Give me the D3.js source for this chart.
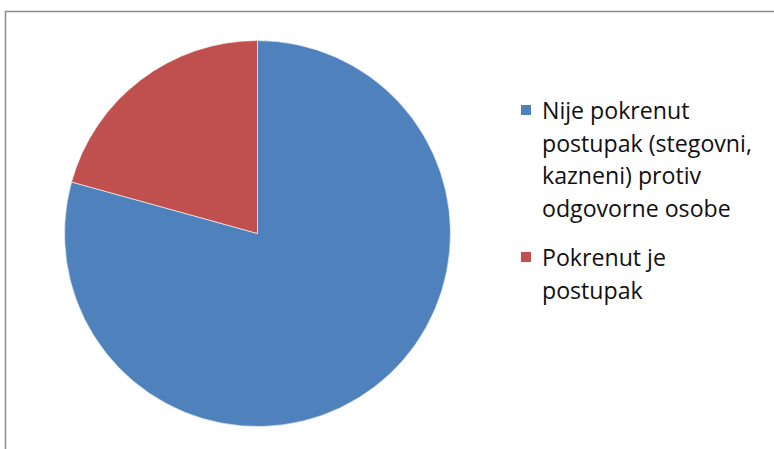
<!DOCTYPE html>
<html>
<head>
<meta charset="utf-8">
<script src="https://cdn.jsdelivr.net/npm/d3@7"></script>
<style>
html,body{margin:0;padding:0;background:#fff;}
svg{display:block;}
</style>
</head>
<body>
<svg id="chart" width="774" height="449"></svg>
<script>
const categories = ["Nije pokrenut postupak (stegovni, kazneni) protiv odgovorne osobe", "Pokrenut je postupak"];
const values = [79.3, 20.7];
const legendLines = [["Nije pokrenut", "postupak (stegovni,", "kazneni) protiv", "odgovorne osobe"], ["Pokrenut je", "postupak"]];
const colors = ["#4F81BD", "#C0504D"];

const svg = d3.select("#chart");
// chart frame
svg.append("path")
  .attr("d", "M5.5,449 L5.5,11.5 L774,11.5")
  .attr("fill", "none")
  .attr("stroke", "#8c8c8c")
  .attr("stroke-width", 1.5);

const cx = 257.5, cy = 233.5, r = 193;
const pie = d3.pie().sort(null).value(d => d);
const arc = d3.arc().innerRadius(0).outerRadius(r);
const color = d3.scaleOrdinal().domain(categories).range(colors);

svg.append("g").attr("transform", `translate(${cx},${cy})`)
  .selectAll("path")
  .data(pie(values))
  .join("path")
  .attr("d", arc)
  .attr("fill", (d, i) => color(categories[i]))
  .attr("stroke", "#ffffff")
  .attr("stroke-width", 0.6);

const legend = svg.append("g").attr("font-family", "'Open Sans', sans-serif").attr("font-size", 20).attr("fill", "#111");
const lineH = 32.5;
const startY = [119, 266];
legendLines.forEach((lines, i) => {
  legend.append("rect")
    .attr("x", 521).attr("y", startY[i] - 14)
    .attr("width", 10).attr("height", 10)
    .attr("fill", color(categories[i]));
  const t = legend.append("text").attr("x", 542).attr("y", startY[i]);
  lines.forEach((l, j) => {
    t.append("tspan").attr("x", 542).attr("y", startY[i] + j * lineH).text(l);
  });
});
// fit longest line width to reference (~210px)
const longest = legend.selectAll("tspan").filter(function(){ return this.textContent === "postupak (stegovni,"; }).node();
if (longest) {
  const w = longest.getComputedTextLength();
  const fs = 20 * 210 / w;
  legend.attr("font-size", fs.toFixed(2));
}
</script>
</body>
</html>
